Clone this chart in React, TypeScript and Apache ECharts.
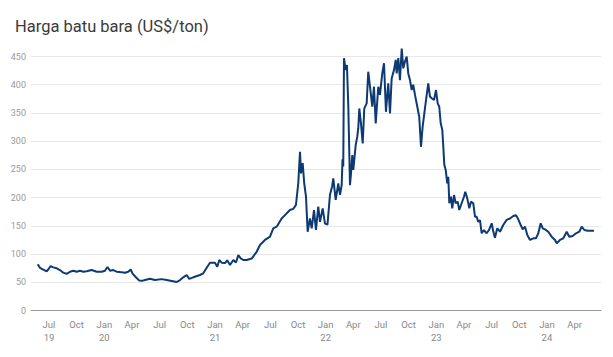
import React, { useEffect, useRef } from "react";
import * as echarts from "echarts";

// x = months since Jan 2019 (0 = Jan 2019, 6 = Jul 2019, ...)
const monthIndex: number[] = [
  4.78, 5.02, 5.38, 5.75, 5.92, 6.18, 6.47, 6.84, 7.19, 7.55, 7.92, 8.28, 8.64, 9.0, 9.36, 9.72,
  10.09, 10.63, 11.17, 11.72, 12.07, 12.34, 12.62, 12.97, 13.34, 13.7, 14.24, 14.6, 14.86, 15.08,
  15.43, 15.79, 16.08, 16.41, 16.95, 17.49, 18.22, 18.76, 19.31, 19.85, 20.21, 20.56, 20.93, 21.21,
  21.65, 22.37, 22.73, 23.17, 23.46, 24.0, 24.25, 24.47, 24.73, 25.09, 25.33, 25.63, 25.99, 26.28,
  26.53, 26.79, 27.07, 27.44, 27.98, 28.52, 28.88, 29.42, 29.97, 30.32, 30.69, 31.23, 31.59, 32.13,
  32.49, 32.78, 33.03, 33.22, 33.33, 33.51, 33.68, 33.87, 34.05, 34.3, 34.49, 34.74, 34.95, 35.2,
  35.39, 35.68, 35.93, 36.2, 36.47, 36.69, 36.83, 37.09, 37.37, 37.56, 37.74, 37.83, 37.91, 37.99,
  38.17, 38.31, 38.46, 38.64, 38.75, 38.89, 39.0, 39.26, 39.43, 39.54, 39.65, 39.83, 40.02, 40.19,
  40.45, 40.62, 40.81, 41.06, 41.24, 41.43, 41.71, 41.89, 42.14, 42.33, 42.54, 42.79, 42.98, 43.16,
  43.41, 43.6, 43.7, 43.88, 44.06, 44.25, 44.42, 44.6, 44.79, 44.96, 45.15, 45.33, 45.5, 45.69,
  45.94, 46.15, 46.34, 46.52, 46.77, 46.96, 47.13, 47.31, 47.5, 47.75, 47.97, 48.15, 48.32, 48.48,
  48.65, 48.76, 48.87, 49.02, 49.19, 49.3, 49.41, 49.59, 49.73, 49.92, 50.1, 50.32, 50.49, 50.75,
  51.0, 51.14, 51.36, 51.58, 51.76, 52.01, 52.2, 52.38, 52.55, 52.74, 52.92, 53.17, 53.46, 53.71,
  54.01, 54.18, 54.36, 54.61, 54.91, 55.26, 55.63, 55.99, 56.35, 56.64, 56.89, 57.15, 57.37, 57.62,
  57.87, 58.16, 58.52, 58.81, 59.06, 59.32, 59.54, 59.79, 60.14, 60.51, 60.87, 61.06, 61.41, 61.77,
  62.14, 62.42, 62.79, 63.15, 63.51, 63.77, 64.05, 64.42, 64.85, 65.1,
];

const price: number[] = [
  82, 75.6, 72.6, 69.5, 72.6, 78.8, 76.4, 74.7, 71.7, 67, 64.8, 68.7, 70.5, 68.7, 70.5, 68.7,
  69.5, 71.7, 68.7, 68.7, 70.5, 77, 70.5, 71.7, 68.7, 68, 67, 68.7, 72.6, 64.8,
  58.9, 53, 52.5, 54, 56.4, 54, 55.6, 54, 52.3, 50.5, 54, 58.8, 62.9, 56,
  58.8, 62.9, 65.9, 77.6, 84.7, 84.7, 77.6, 89.5, 84.7, 84, 89, 80.6, 89.5, 85,
  98.3, 92.5, 89.5, 89.5, 92, 104, 116, 125, 130.8, 145.6, 148.5, 163, 169, 178,
  180, 187, 225, 281, 243, 261, 225, 201.6, 139.6, 163, 145.6, 178, 142.6, 184,
  157, 181, 154, 152, 205, 219, 234, 196, 225, 205, 222, 268, 255, 447,
  426, 435, 361, 222, 243, 275.5, 249, 293, 308, 323, 358, 331.6, 296, 358,
  367, 423, 396.5, 361, 396.5, 331.6, 396.5, 382, 420, 438, 352, 402.5, 349, 411,
  426, 444, 420, 447, 408, 464, 429, 441, 449.7, 420, 408, 390.6, 400, 382,
  361, 343, 290, 325.6, 358, 382, 402.5, 379, 376, 373, 390.6, 367, 361, 331.6,
  320, 290, 258, 249, 225, 237, 190, 201.6, 181, 204.6, 190, 192.8, 178, 190,
  201.6, 210.5, 198.7, 181, 192.8, 190, 166, 166, 157, 160, 136.8, 142.6, 136.8, 142.6,
  154.5, 139.8, 129, 145.6, 139.6, 151.5, 160.5, 163, 167.4, 169, 161.5, 151.5, 143.8, 148.5,
  133.8, 125, 127.9, 127.9, 136.8, 154.5, 145.6, 143.8, 139.6, 130.8, 125, 119, 125, 127.9,
  139.6, 130.8, 132, 136.8, 139.6, 148.5, 142.6, 141.4, 141.4, 141.4,
];

// quarterly tick positions (months since Jan 2019): Jul 19 ... Apr 24
const tickMonths: number[] = [6, 9, 12, 15, 18, 21, 24, 27, 30, 33, 36, 39, 42, 45, 48, 51, 54, 57, 60, 63];
const monthNames: string[] = ["Jan", "Feb", "Mar", "Apr", "May", "Jun", "Jul", "Aug", "Sep", "Oct", "Nov", "Dec"];
const yTicks: number[] = [0, 50, 100, 150, 200, 250, 300, 350, 400, 450];

const TITLE = "Harga batu bara (US$/ton)";

export default function App() {
  const ref = useRef<HTMLDivElement>(null);
  useEffect(() => {
    if (!ref.current) return;
    const chart = echarts.init(ref.current, null, { renderer: "svg" });
    const data = monthIndex.map((m, i) => [m, price[i]]);
    chart.setOption({
      animation: false,
      backgroundColor: "#ffffff",
      title: {
        text: TITLE,
        left: 10,
        top: 13,
        textStyle: { fontFamily: "Roboto", fontSize: 16.5, fontWeight: "normal", color: "#3a3a3a" },
      },
      grid: { left: 31, right: 12, top: 56.5, bottom: 46.5, containLabel: false },
      xAxis: {
        type: "value",
        min: 4.05,
        max: 65.86,
        splitLine: { show: false },
        axisTick: { show: false },
        axisLine: { show: true, lineStyle: { color: "#999999", width: 1 } },
        axisLabel: {
          customValues: tickMonths,
          color: "#888888",
          fontFamily: "Roboto",
          fontSize: 9.5,
          lineHeight: 13,
          margin: 7,
          formatter: (v: number) => {
            const m = Math.round(v);
            const mi = ((m % 12) + 12) % 12;
            const yr = 2019 + Math.floor(m / 12);
            let s = monthNames[mi];
            if (mi === 0 || m === tickMonths[0]) s += "\n" + String(yr).slice(2);
            return s;
          },
        },
      },
      yAxis: {
        type: "value",
        min: yTicks[0],
        max: yTicks[yTicks.length - 1],
        interval: 50,
        axisLine: { show: false },
        axisTick: { show: false },
        splitLine: { show: true, lineStyle: { color: "#e8e8e8", width: 1 } },
        axisLabel: { color: "#999999", fontFamily: "Roboto", fontSize: 9, margin: 5 },
      },
      series: [
        {
          type: "line",
          data,
          showSymbol: false,
          clip: false,
          lineStyle: { color: "#0d3a72", width: 2 },
          itemStyle: { color: "#0d3a72" },
        },
      ],
    });
    return () => chart.dispose();
  }, []);
  return <div ref={ref} style={{ width: 613, height: 357, position: "absolute", left: 0, top: 0 }} />;
}
